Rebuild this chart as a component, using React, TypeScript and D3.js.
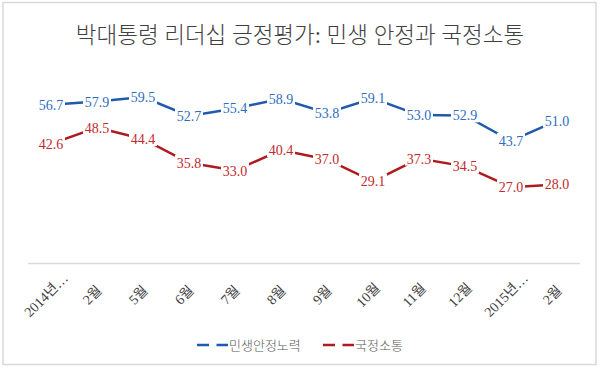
import React from "react";
import * as d3 from "d3";

// chart data
const categories = ["2014년…", "2월", "5월", "6월", "7월", "8월", "9월", "10월", "11월", "12월", "2015년…", "2월"];
const livelihood = [56.7, 57.9, 59.5, 52.7, 55.4, 58.9, 53.8, 59.1, 53.0, 52.9, 43.7, 51.0];
const communication = [42.6, 48.5, 44.4, 35.8, 33.0, 40.4, 37.0, 29.1, 37.3, 34.5, 27.0, 28.0];
const seriesNames = ["민생안정노력", "국정소통"];

const WIDTH = 600;
const HEIGHT = 369;
const FONT = "'Liberation Serif', 'Noto Sans CJK KR', serif";

const series = [
  { name: seriesNames[0], values: livelihood, line: "#1f5bac", text: "#2f6cc0" },
  { name: seriesNames[1], values: communication, line: "#ae1b1f", text: "#bf2a2e" },
];

export default function App() {
  const x = d3.scalePoint<number>()
    .domain(d3.range(categories.length))
    .range([28, 580])
    .padding(0.5);

  const y = d3.scaleLinear().domain([0, 70]).range([262, 68]);

  const line = d3.line<number>()
    .x((d, i) => x(i) as number)
    .y((d) => y(d));

  return (
    <svg width={WIDTH} height={HEIGHT} style={{ position: "absolute", left: 0, top: 0, background: "#fff" }}>
      <rect x={3} y={2.5} width={593} height={362} fill="#fff" stroke="#d9d9d9" strokeWidth={1.5} />
      <text x={300} y={43} textAnchor="middle" fontSize={22.5} fontWeight={300} fill="#404040" fontFamily={FONT}>
        박대통령 리더십 긍정평가: 민생 안정과 국정소통
      </text>

      {/* x axis */}
      <line x1={28} x2={580} y1={263.5} y2={263.5} stroke="#d9d9d9" strokeWidth={1.5} />
      {categories.map((c, i) => (
        <text
          key={"c" + i}
          transform={"translate(" + ((x(i) as number) - 5) + ",295) rotate(-45)"}
          textAnchor="middle"
          dy="0.35em"
          fontSize={14}
          fill="#404040"
          fontFamily={FONT}
        >
          {c}
        </text>
      ))}

      {series.map((s) => (
        <g key={s.name}>
          <path d={line(s.values) || ""} fill="none" stroke={s.line} strokeWidth={2.5} />
          {s.values.map((v, i) => (
            <g key={i} transform={"translate(" + x(i) + "," + y(v) + ")"}>
              <rect x={-14} y={-8} width={28} height={15} fill="#fff" />
              <text y={5} textAnchor="middle" fontSize={14} fill={s.text} fontFamily={FONT}>
                {v.toFixed(1)}
              </text>
            </g>
          ))}
        </g>
      ))}

      {/* legend */}
      {series.map((s, k) => {
        const lx = k === 0 ? 197 : 323;
        return (
          <g key={"l" + k}>
            <line x1={lx} x2={lx + 31} y1={345} y2={345} stroke={s.line} strokeWidth={2.5} strokeDasharray="12,7.5" />
            <text x={lx + 32} y={350} fontSize={13} fontWeight={300} fill="#595959" fontFamily={FONT}>
              {s.name}
            </text>
          </g>
        );
      })}
    </svg>
  );
}
